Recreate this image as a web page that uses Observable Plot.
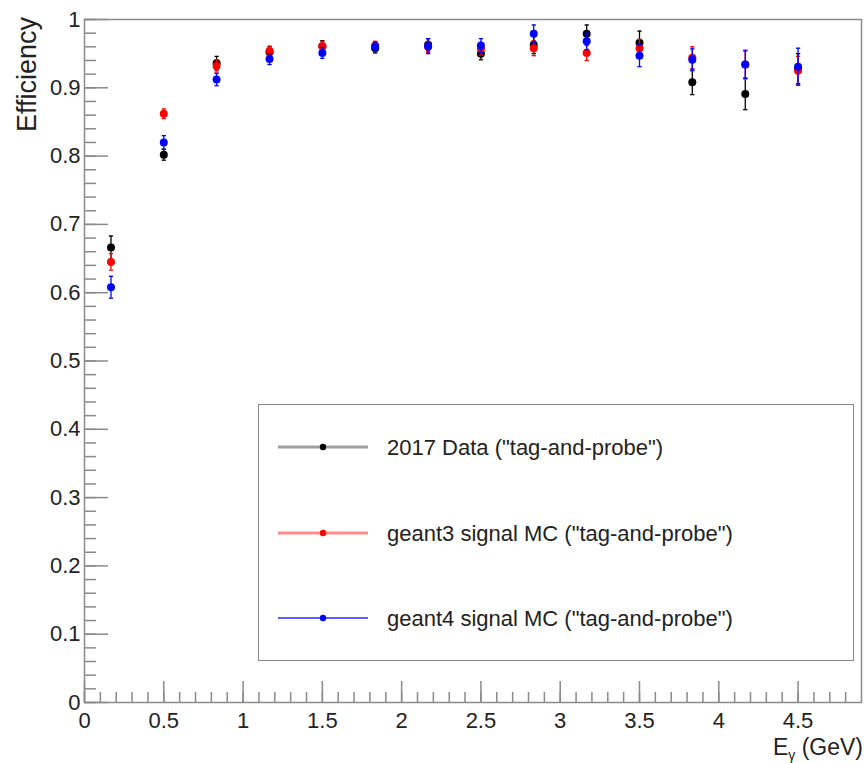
<!DOCTYPE html>
<html><head><meta charset="utf-8">
<script src="https://cdn.jsdelivr.net/npm/d3@7"></script>
<script src="https://cdn.jsdelivr.net/npm/@observablehq/plot@0.6"></script>
<style>
html,body{margin:0;padding:0;background:#fff;overflow:hidden;}
#wrap{position:relative;width:867px;height:763px;font-family:"Liberation Sans",Arial,Helvetica,sans-serif;}
#legend{position:absolute;left:258px;top:404px;width:596px;height:257px;border:1.5px solid #888;box-sizing:border-box;background:#fff;}
</style></head><body><div id="wrap"></div>
<script>
// ---- data ----
const energies = [0.167, 0.5, 0.833, 1.167, 1.5, 1.833, 2.167, 2.5, 2.833, 3.167, 3.5, 3.833, 4.167, 4.5];

const data2017    = [0.666, 0.802, 0.936, 0.952, 0.961, 0.958, 0.963, 0.950, 0.963, 0.979, 0.966, 0.908, 0.891, 0.928];
const err2017     = [0.017, 0.008, 0.010, 0.008, 0.008, 0.007, 0.009, 0.009, 0.013, 0.013, 0.017, 0.018, 0.023, 0.022];
const geant3      = [0.645, 0.862, 0.932, 0.954, 0.961, 0.962, 0.960, 0.957, 0.958, 0.951, 0.958, 0.944, 0.934, 0.925];
const errGeant3   = [0.012, 0.007, 0.009, 0.007, 0.007, 0.006, 0.008, 0.009, 0.011, 0.011, 0.013, 0.016, 0.021, 0.021];
const geant4      = [0.608, 0.820, 0.912, 0.942, 0.951, 0.960, 0.961, 0.962, 0.979, 0.968, 0.947, 0.941, 0.934, 0.931];
const errGeant4   = [0.016, 0.010, 0.009, 0.008, 0.008, 0.007, 0.011, 0.010, 0.013, 0.012, 0.016, 0.016, 0.020, 0.027];

const seriesNames  = ['2017 Data ("tag-and-probe")', 'geant3 signal MC ("tag-and-probe")', 'geant4 signal MC ("tag-and-probe")'];
const seriesColors = ["#000000", "#ff0000", "#0000ff"];
const legendLineColors = ["#a0a0a0", "#ff8c8c", "#2b2bff"];
const legendLineWidths = [3, 3, 1.5];

const xMajorTicks = [0, 0.5, 1, 1.5, 2, 2.5, 3, 3.5, 4, 4.5];
const xTickLabels = ["0", "0.5", "1", "1.5", "2", "2.5", "3", "3.5", "4", "4.5"];
const yMajorTicks = [0, 0.1, 0.2, 0.3, 0.4, 0.5, 0.6, 0.7, 0.8, 0.9, 1];
const yTickLabels = ["0", "0.1", "0.2", "0.3", "0.4", "0.5", "0.6", "0.7", "0.8", "0.9", "1"];
const xLabel = "E";
const xLabelSub = "γ";
const xLabelUnit = " (GeV)";
const yLabel = "Efficiency";

// ---- build ----
const values = [data2017, geant3, geant4];
const errors = [err2017, errGeant3, errGeant4];
const series = seriesNames.map((name, s) => energies.map((e, i) => ({x: e, y: values[s][i], err: errors[s][i], name})));

const xMinor = d3.range(0, 49).map(i => i / 10);
const yMinor = d3.range(0, 51).map(i => i / 50);

const capSymbol = {draw(ctx, size) { const r = Math.sqrt(size) * 0.55; ctx.moveTo(-r, 0); ctx.lineTo(r, 0); }};

const font = '"Liberation Sans", Arial, Helvetica, sans-serif';
const tickColor = "#8a8a8a";

const marks = [
  Plot.axisX({ticks: xMinor, tickSize: -10, tickFormat: () => "", stroke: tickColor, strokeWidth: 1.5, label: null}),
  Plot.axisX({ticks: xMajorTicks, tickSize: -21, tickFormat: () => "", stroke: tickColor, strokeWidth: 1.5, label: null}),
  Plot.axisX({ticks: xMajorTicks, tickSize: 0, tickPadding: 10, tickFormat: (d, i) => xTickLabels[xMajorTicks.indexOf(d)], fill: "#222", label: null, fontSize: 22}),
  Plot.axisY({ticks: yMinor, tickSize: -12, tickFormat: () => "", stroke: tickColor, strokeWidth: 1.5, label: null}),
  Plot.axisY({ticks: yMajorTicks, tickSize: -24, tickFormat: () => "", stroke: tickColor, strokeWidth: 1.5, label: null}),
  Plot.axisY({ticks: yMajorTicks, tickSize: 0, tickPadding: 4, tickFormat: d => yTickLabels[yMajorTicks.findIndex(v => Math.abs(v - d) < 1e-9)], fill: "#222", label: null, fontSize: 22}),
  Plot.frame({stroke: tickColor, strokeWidth: 1.5})
];
series.forEach((data, s) => {
  const c = seriesColors[s];
  marks.push(
    Plot.ruleX(data, {x: "x", y1: d => d.y - d.err, y2: d => d.y + d.err, stroke: c, strokeWidth: 1.3}),
    Plot.dot(data, {x: "x", y: d => d.y + d.err, symbol: capSymbol, r: 2.2, stroke: c, strokeWidth: 1.3, fill: "none"}),
    Plot.dot(data, {x: "x", y: d => d.y - d.err, symbol: capSymbol, r: 2.2, stroke: c, strokeWidth: 1.3, fill: "none"}),
    Plot.dot(data, {x: "x", y: "y", r: 4, fill: c, stroke: "none"})
  );
});

const chart = Plot.plot({
  width: 867, height: 763,
  marginLeft: 84, marginRight: 6, marginTop: 19, marginBottom: 61,
  x: {domain: [0, 4.9]},
  y: {domain: [0, 1]},
  style: {fontFamily: font, fontSize: "22px", color: "#222", background: "#fff", overflow: "visible"},
  marks
});
document.getElementById("wrap").appendChild(chart);

// axis titles
const svg = d3.select(chart);
svg.append("text")
  .attr("transform", "translate(27,17) rotate(-90)")
  .attr("text-anchor", "end")
  .attr("dy", "0.35em")
  .attr("font-family", font).attr("font-size", 27).attr("fill", "#222")
  .text(yLabel);
const xt = svg.append("text")
  .attr("x", 863).attr("y", 755)
  .attr("text-anchor", "end")
  .attr("font-family", font).attr("font-size", 23).attr("fill", "#222");
xt.append("tspan").text(xLabel);
xt.append("tspan").attr("font-size", 14).attr("dy", 5).text(xLabelSub);
xt.append("tspan").attr("dy", -5).text(xLabelUnit);

// legend (inside the frame, as in the reference)
const leg = d3.select("#wrap").append("div").attr("id", "legend");
const lsvg = leg.append("svg").attr("width", 594).attr("height", 255).style("position", "absolute").style("left", 0).style("top", 0);
const rowY = [42, 128, 213];
seriesNames.forEach((name, s) => {
  lsvg.append("line").attr("x1", 19).attr("x2", 109).attr("y1", rowY[s]).attr("y2", rowY[s])
    .attr("stroke", legendLineColors[s]).attr("stroke-width", legendLineWidths[s]);
  lsvg.append("circle").attr("cx", 64).attr("cy", rowY[s]).attr("r", 3.2).attr("fill", seriesColors[s]);
  lsvg.append("text").attr("x", 128).attr("y", rowY[s]).attr("dy", "0.35em")
    .attr("font-family", font).attr("font-size", 22).attr("fill", "#222").text(name);
});
</script>
</body></html>
